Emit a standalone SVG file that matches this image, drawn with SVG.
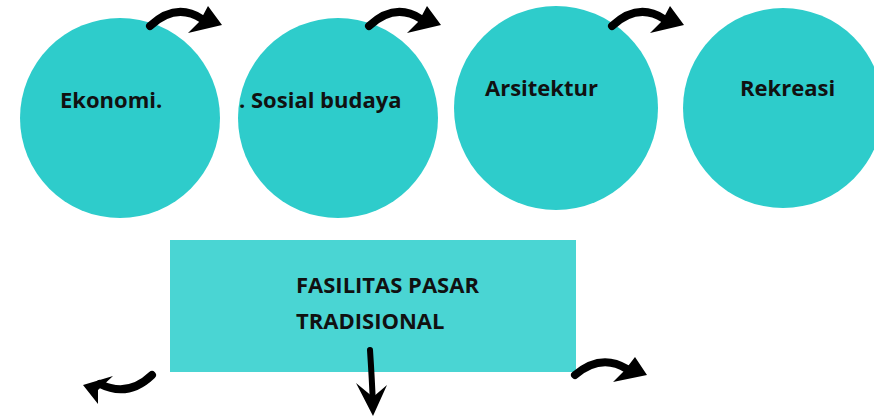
<svg xmlns="http://www.w3.org/2000/svg" width="874" height="417" viewBox="0 0 874 417">
<style>
.c{fill:#2ECCCB}
.r{fill:#4AD5D3}
.t{font-family:"Open Sans",Lato,sans-serif;font-weight:bold;font-size:22px;fill:#111}
.a{fill:none;stroke:#000;stroke-width:8;stroke-linecap:round}
.h{fill:#000}
</style>
<defs>
<g id="arc">
<path class="a" d="M2,-2 Q28,-26 54,-9"/>
<polygon class="h" points="60,-22 74,-3 40,5 52,-7"/>
</g>
</defs>
<rect width="874" height="417" fill="#fff"/>
<g id="n-ekonomi"><circle class="c" cx="120" cy="118" r="100"/><text class="t" x="60" y="108">Ekonomi.</text></g>
<g id="n-sosial"><circle class="c" cx="338" cy="118" r="100"/><text class="t" x="239" y="108">. Sosial budaya</text></g>
<g id="n-arsitektur"><circle class="c" cx="556" cy="108" r="102"/><text class="t" x="485" y="96">Arsitektur</text></g>
<g id="n-rekreasi"><circle class="c" cx="783" cy="108" r="100"/><text class="t" x="740" y="96">Rekreasi</text></g>
<g id="n-fasilitas"><rect class="r" x="170" y="240" width="406" height="132"/><text class="t" x="296" y="293">FASILITAS PASAR</text><text class="t" x="296" y="329">TRADISIONAL</text></g>
<g id="connectors">
<use href="#arc" transform="translate(148,28)"/>
<use href="#arc" transform="translate(367,28)"/>
<use href="#arc" transform="translate(610,28)"/>
<g transform="translate(573,377)">
<path class="a" d="M2,-2 Q28,-24 54,-8"/>
<polygon class="h" points="62,-20 74,-2 40,5 52,-7"/>
</g>
<g id="a-left">
<path class="a" d="M152,375 Q128,398 100,384"/>
<polygon class="h" points="113,376 83,385 98,404 98,390"/>
</g>
<g id="a-down">
<path fill="none" stroke="#000" stroke-width="6" stroke-linecap="round" d="M370,350 Q372,380 373,406"/>
<polygon class="h" points="356,383 373,416 387,385 373,397"/>
</g>
</g>
</svg>
